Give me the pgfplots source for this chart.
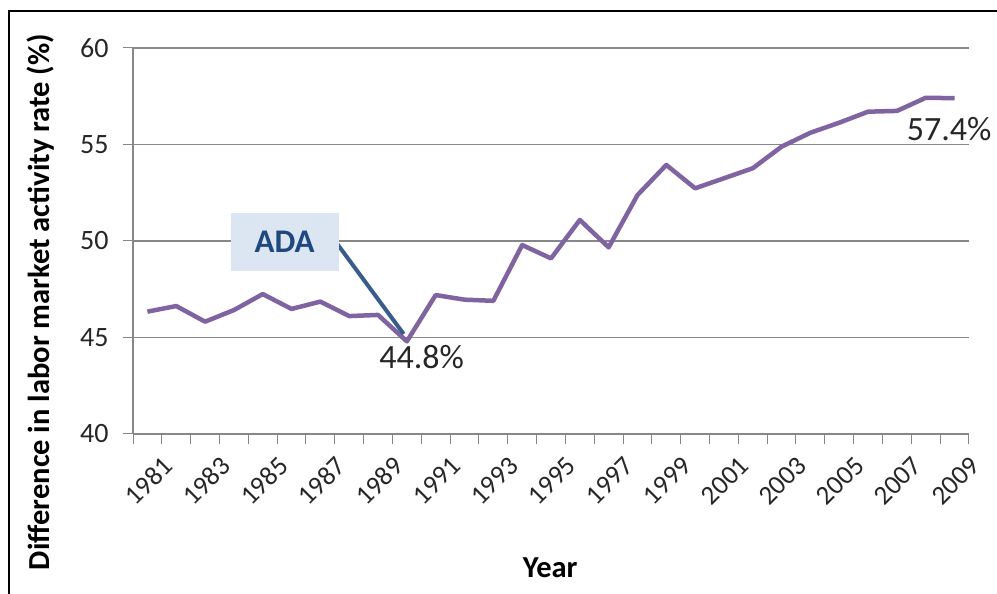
\documentclass[border=0pt]{standalone}
\usepackage{fontspec}
\setmainfont{Carlito}
\usepackage{pgfplots}
\pgfplotsset{compat=1.18}
\definecolor{linepurple}{HTML}{8064A2}
\definecolor{gridgray}{HTML}{878787}
\definecolor{boxblue}{HTML}{DCE6F2}
\definecolor{textblue}{HTML}{1F497D}
\definecolor{arrowblue}{HTML}{385D8A}
\begin{document}
\begin{tikzpicture}
\begin{axis}[
  at={(133bp,160bp)}, anchor=south west,
  scale only axis, width=836bp, height=386bp,
  xmin=1980.5, xmax=2009.5, ymin=40, ymax=60,
  clip=false,
  axis lines*=left,
  axis line style={draw=gridgray, line width=1.2bp},
  /pgf/number format/assume math mode=true,
  xtick={1980.5,1981.5,...,2009.5},
  xticklabels={},
  extra x ticks={1981,1983,...,2009},
  extra x tick labels={1981,1983,1985,1987,1989,1991,1993,1995,1997,1999,2001,2003,2005,2007,2009},
  extra x tick style={major tick length=0pt, grid=none},
  ytick={40,45,...,60},
  tick style={draw=gridgray, line width=1bp},
  major tick length=10bp,
  tick align=outside,
  ymajorgrids,
  major grid style={draw=gridgray, line width=1.2bp},
  tick label style={font=\fontsize{28bp}{32bp}\selectfont, text=black!85},
  xticklabel style={font=\fontsize{27bp}{30bp}\selectfont, yshift=-18bp, xshift=14bp, rotate=45, anchor=north east, inner sep=2bp},
  yticklabel style={xshift=-11bp},
  xlabel={Year},
  ylabel={Difference in labor market activity rate (\%)},
  label style={font=\bfseries\fontsize{30.5bp}{32bp}\selectfont},
  xlabel style={at={(axis description cs:0.499,-0.347)}, anchor=center},
  ylabel style={at={(axis description cs:-0.111,0.342)}, anchor=center},
]
\addplot[linepurple, line width=4.5bp, line join=round] coordinates {
(1981,46.34) (1982,46.63) (1983,45.82) (1984,46.42) (1985,47.25)
(1986,46.48) (1987,46.86) (1988,46.11) (1989,46.17) (1990,44.8)
(1991,47.2) (1992,46.96) (1993,46.9) (1994,49.79) (1995,49.1)
(1996,51.09) (1997,49.67) (1998,52.38) (1999,53.94) (2000,52.73)
(2001,53.25) (2002,53.77) (2003,54.89) (2004,55.61) (2005,56.13)
(2006,56.7) (2007,56.74) (2008,57.42) (2009,57.4)
};
\draw[arrowblue, line width=4bp] (axis cs:1987.56,49.9) -- (axis cs:1989.89,45.18);
\node[fill=boxblue, minimum width=108bp, minimum height=58bp, text=textblue,
  font=\bfseries\fontsize{33bp}{33bp}\selectfont] at (axis cs:1985.76,49.95) {ADA};
\node[font=\fontsize{34bp}{34bp}\selectfont, text=black!85] at (axis cs:1990.51,43.99) {44.8\%};
\node[font=\fontsize{34bp}{34bp}\selectfont, text=black!85] at (axis cs:2008.81,55.8) {57.4\%};
\end{axis}
\draw[black, line width=1.2bp] (9bp,0) -- (9bp,583bp) -- (997bp,583bp);
\pgfresetboundingbox
\useasboundingbox (0,0) rectangle (997bp,594bp);
\end{tikzpicture}
\end{document}
